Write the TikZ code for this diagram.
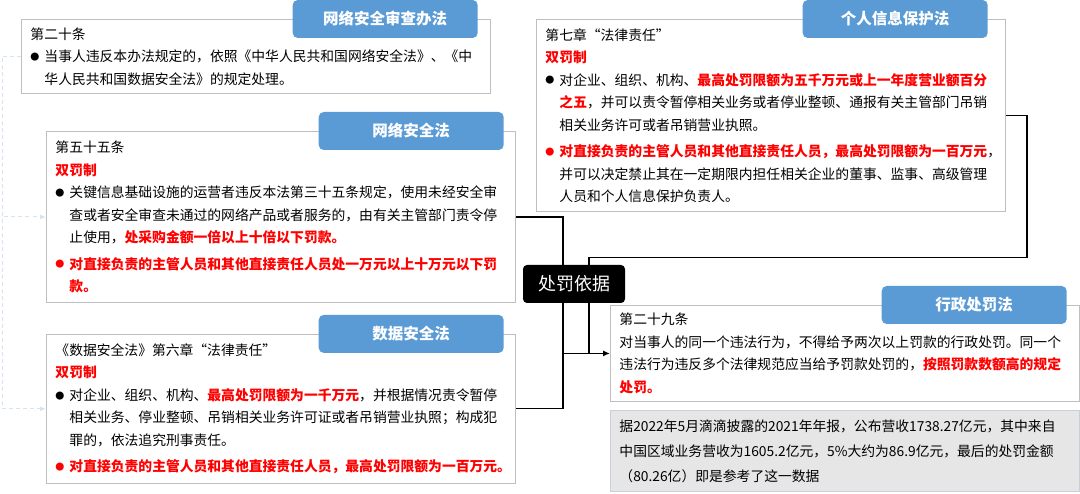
\documentclass[tikz,border=0pt]{standalone}
\usepackage{fontspec}
\setmainfont{Noto Sans CJK SC}
\usepackage{tikz}
\usetikzlibrary{arrows.meta,positioning,backgrounds}
\definecolor{tabblue}{HTML}{5B9BD5}
\definecolor{hlred}{HTML}{FF0000}
\definecolor{boxgray}{HTML}{BFBFBF}
\definecolor{notefill}{HTML}{E7E6E6}
\definecolor{noteline}{HTML}{C8D0DA}
\definecolor{dashblue}{HTML}{D6E4F2}
\newcommand{\hl}[1]{\textcolor{hlred}{\bfseries #1}}
\newcommand{\bul}{\makebox[14pt][l]{\raisebox{1.2pt}{\fontsize{9pt}{9pt}\selectfont ●}}}
\newcommand{\ind}{\hspace*{14pt}}

\begin{document}
\begin{tikzpicture}[
  x=1pt, y=-1pt,
  law/.style={draw=boxgray, line width=0.9pt, anchor=north west, align=left, text width=451pt, inner xsep=9pt, inner ysep=3pt, minimum width=469pt, font=\fontsize{13.8pt}{22.5pt}\selectfont},
  note/.style={law, fill=notefill, draw=noteline, font=\fontsize{13.8pt}{25pt}\selectfont},
  tab/.style={fill=tabblue, rounded corners=5pt, text=white, minimum width=185pt, minimum height=38pt, anchor=east, font=\fontsize{15.5pt}{18pt}\selectfont\bfseries},
  hub/.style={fill=black, rounded corners=4pt, text=white, minimum width=102pt, minimum height=38pt, font=\fontsize{18pt}{20pt}\selectfont},
  link/.style={line width=1.3pt},
  arr/.style={link, -{Latex[length=7pt,width=6pt]}},
  dashlink/.style={draw=dashblue, line width=1pt, dash pattern=on 4pt off 3pt, -{Latex[length=6pt,width=5pt]}},
]
\useasboundingbox (0,0) rectangle (1080,494);

% left column
\node[law, minimum height=74pt] (ccr) at (21,19) {第二十条\\
\bul 当事人违反本办法规定的，依照《中华人民共和国网络安全法》、《中\\
\ind 华人民共和国数据安全法》的规定处理。};
\node[law, minimum height=171pt] (csl) at (46,131) {第五十五条\\
\hl{双罚制}\\
\bul 关键信息基础设施的运营者违反本法第三十五条规定，使用未经安全审\\
\ind 查或者安全审查未通过的网络产品或者服务的，由有关主管部门责令停\\
\ind 止使用，\hl{处采购金额一倍以上十倍以下罚款。}\\[4pt]
{\color{hlred}\bul}\hl{对直接负责的主管人员和其他直接责任人员处一万元以上十万元以下罚}\\
\ind\hl{款。}};
\node[law, minimum height=149pt, below=31pt of csl.south west, anchor=north west] (dsl) {《数据安全法》第六章“法律责任”\\
\hl{双罚制}\\
\bul 对企业、组织、机构、\hl{最高处罚限额为一千万元}，并根据情况责令暂停\\
\ind 相关业务、停业整顿、吊销相关业务许可证或者吊销营业执照；构成犯\\
\ind 罪的，依法追究刑事责任。\\[4pt]
{\color{hlred}\bul}\hl{对直接负责的主管人员和其他直接责任人员，最高处罚限额为一百万元。}};

% right column
\node[law, minimum height=192pt] (pipl) at (536,19) {第七章“法律责任”\\
\hl{双罚制}\\
\bul 对企业、组织、机构、\hl{最高处罚限额为五千万元或上一年度营业额百分}\\
\ind\hl{之五}，并可以责令暂停相关业务或者停业整顿、通报有关主管部门吊销\\
\ind 相关业务许可或者吊销营业执照。\\[4pt]
{\color{hlred}\bul}\hl{对直接负责的主管人员和其他直接责任人员，最高处罚限额为一百万元}，\\
\ind 并可以决定禁止其在一定期限内担任相关企业的董事、监事、高级管理\\
\ind 人员和个人信息保护负责人。};
\node[law, minimum height=96pt] (apl) at (610,305) {第二十九条\\
对当事人的同一个违法行为，不得给予两次以上罚款的行政处罚。同一个\\
违法行为违反多个法律规范应当给予罚款处罚的，\hl{按照罚款数额高的规定}\\
\hl{处罚。}};
\node[note, minimum height=81pt, below=8pt of apl.south west, anchor=north west] (didi) {据2022年5月滴滴披露的2021年年报，公布营收1738.27亿元，其中来自\\
中国区域业务营收为1605.2亿元，5\%大约为86.9亿元，最后的处罚金额\\
（80.26亿）即是参考了这一数据};

% titles
\node[tab] (tccr) at ([xshift=-13pt]ccr.north east) {网络安全审查办法};
\node[tab] (tcsl) at ([xshift=-12pt]csl.north east) {网络安全法};
\node[tab] (tdsl) at ([xshift=-12pt]dsl.north east) {数据安全法};
\node[tab] (tpipl) at ([xshift=-18pt]pipl.north east) {个人信息保护法};
\node[tab] (tapl) at ([xshift=-13pt]apl.north east) {行政处罚法};

\node[hub] (basis) at (574,284) {处罚依据};
\coordinate (jl) at ([xshift=-11pt]basis.center);
\coordinate (jr) at ([xshift=15pt]basis.center);
\path (jr |- basis.north) ++(0,-7) coordinate (jt);

\begin{scope}[on background layer]
\draw[link] (csl.east) -| (jl |- dsl.east) -- (dsl.east);
\draw[link] (pipl.east) -- ++(21,0) |- (jt) -- (jr |- apl.west);
\draw[arr] (jl |- apl.west) -- (apl.west);
\draw[dashlink] (ccr.west) -- ++(-19,0) |- (csl.west);
\draw[dashlink] (ccr.west) -- ++(-19,0) |- (dsl.west);
\end{scope}
\end{tikzpicture}
\end{document}
